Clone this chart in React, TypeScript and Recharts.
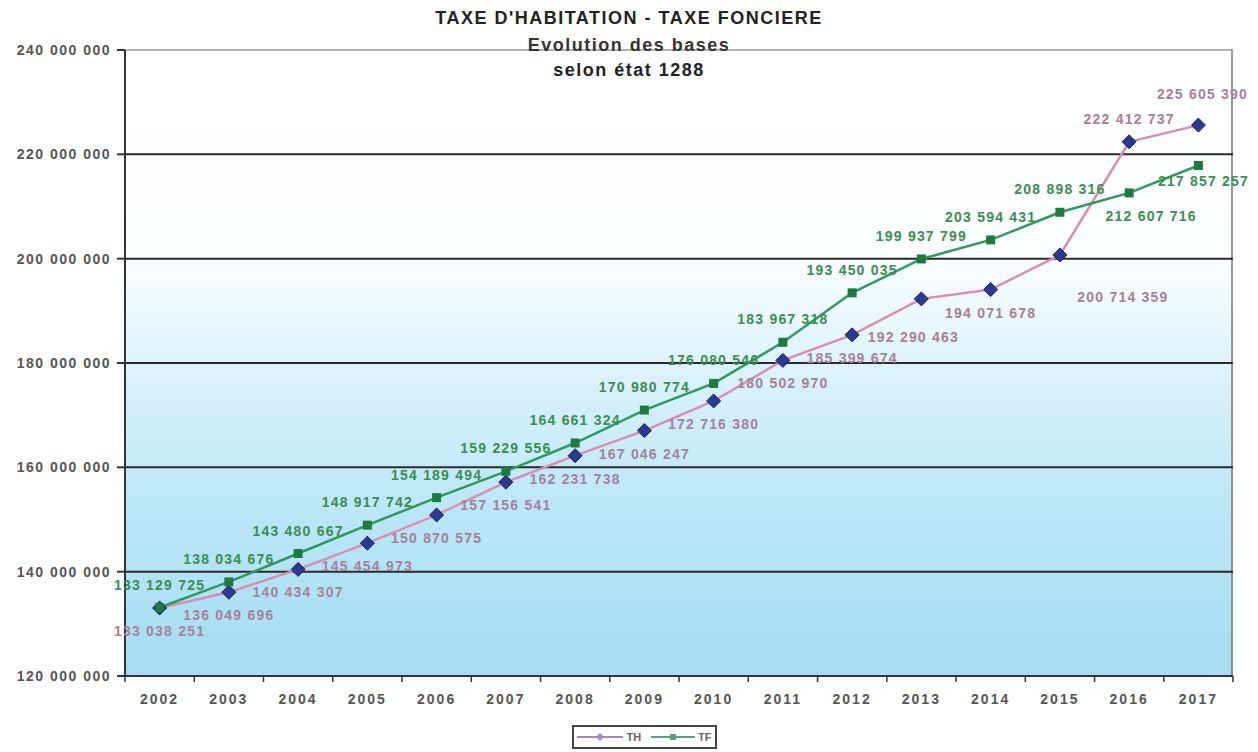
import React from 'react'
import { LineChart, Line, XAxis, YAxis, CartesianGrid, ReferenceLine, LabelList } from 'recharts'

const years = ['2002', '2003', '2004', '2005', '2006', '2007', '2008', '2009', '2010', '2011', '2012', '2013', '2014', '2015', '2016', '2017']

// Taxe d'habitation bases
const thBases = [
  133038251, 136049696, 140434307, 145454973, 150870575, 157156541, 162231738, 167046247,
  172716380, 180502970, 185399674, 192290463, 194071678, 200714359, 222412737, 225605390,
]

// Taxe foncière bases
const tfBases = [
  133129725, 138034676, 143480667, 148917742, 154189494, 159229556, 164661324, 170980774,
  176080546, 183967318, 193450035, 199937799, 203594431, 208898316, 212607716, 217857257,
]

const yTicks = [120000000, 140000000, 160000000, 180000000, 200000000, 220000000, 240000000]

const data = years.map((year, i) => ({ year, th: thBases[i], tf: tfBases[i] }))

const W = 1258
const H = 752
const MARGIN = { top: 50, right: 25, bottom: 36, left: 0 }

const FONT = '"Liberation Sans", Arial, sans-serif'
const TH_LINE = '#d98db3'
const TH_DOT = '#2b3990'
const TH_TEXT = '#a5809a'
const TF_LINE = '#2f9a5e'
const TF_DOT = '#1f7a40'
const TF_TEXT = '#3d8d52'

// label nudges where the default position would collide
const thShift: Record<number, [number, number]> = { 11: [-8, 38], 13: [63, 42], 14: [0, -23], 15: [4, -31] }
const tfShift: Record<number, [number, number]> = { 15: [5, 15], 14: [22, 23] }

const fmt = (n: number) => String(n).replace(/\B(?=(\d{3})+(?!\d))/g, ' ')

const Diamond = (props: any) => {
  const { cx, cy } = props
  if (cx == null || cy == null) return null
  const r = 7
  return <polygon points={`${cx},${cy - r} ${cx + r},${cy} ${cx},${cy + r} ${cx - r},${cy}`} fill={TH_DOT} stroke="#1b2260" strokeWidth={1} />
}

const Square = (props: any) => {
  const { cx, cy } = props
  if (cx == null || cy == null) return null
  return <rect x={cx - 4.5} y={cy - 4.5} width={9} height={9} fill={TF_DOT} />
}

const makeLabel = (color: string, shift: Record<number, [number, number]>, dyBase: number) => (props: any) => {
  const { x, y, index, value } = props
  const [dx, dy] = shift[index] ?? [0, dyBase]
  return (
    <text x={x + dx} y={y + dy} dy={5} textAnchor="middle" fill={color} fontFamily={FONT} fontWeight="bold" fontSize={14} letterSpacing={1.2}>
      {fmt(value)}
    </text>
  )
}

const YearTick = (props: any) => {
  const { x, y, payload, index } = props
  const half = 1107 / 16 / 2
  return (
    <g>
      <line x1={x - half} y1={y - 8} x2={x - half} y2={y - 2} stroke="#333" strokeWidth={1.5} />
      {index === years.length - 1 && <line x1={x + half} y1={y - 8} x2={x + half} y2={y - 2} stroke="#333" strokeWidth={1.5} />}
      <text x={x} y={y + 20} textAnchor="middle" fill="#555" fontFamily={FONT} fontWeight="bold" fontSize={14} letterSpacing={2}>
        {payload.value}
      </text>
    </g>
  )
}

const titleStyle = (top: number, color: string): React.CSSProperties => ({
  position: 'absolute',
  left: 0,
  width: W,
  top,
  textAlign: 'center',
  fontWeight: 'bold',
  fontSize: 18,
  letterSpacing: 1.5,
  color,
  zIndex: 2,
})

export default function App() {
  return (
    <div style={{ position: 'absolute', left: 0, top: 0, width: W, height: H, background: '#fff', fontFamily: FONT }}>
      <div style={titleStyle(8, '#222')}>TAXE D'HABITATION - TAXE FONCIERE</div>
      <div style={titleStyle(35, '#333')}>Evolution des bases</div>
      <div style={titleStyle(60, '#222')}>selon état 1288</div>
      <LineChart width={W} height={H} data={data} margin={MARGIN}>
        <defs>
          <linearGradient id="plotBg" x1="0" y1="0" x2="0" y2="1">
            <stop offset="0" stopColor="#ffffff" />
            <stop offset="0.33" stopColor="#fbfeff" />
            <stop offset="0.52" stopColor="#daf2fb" />
            <stop offset="0.75" stopColor="#b9e6f6" />
            <stop offset="1" stopColor="#a5ddf2" />
          </linearGradient>
        </defs>
        {/* gradient plot background plus a plain right edge */}
        <CartesianGrid
          fill="url(#plotBg)"
          horizontal={false}
          verticalPoints={[W - MARGIN.right - 1]}
          stroke="#777"
          strokeWidth={1.5}
          strokeDasharray="0"
        />
        {yTicks.slice(1, -1).map((v) => (
          <ReferenceLine key={v} y={v} stroke="#2a2a2a" strokeWidth={2} />
        ))}
        <ReferenceLine y={240000000} stroke="#999" strokeWidth={1.5} />
        <XAxis
          dataKey="year"
          height={40}
          padding={{ left: 1107 / 32, right: 1107 / 32 }}
          stroke="#333"
          strokeWidth={2}
          tickLine={false}
          tick={<YearTick />}
          interval={0}
        />
        <YAxis
          domain={[120000000, 240000000]}
          ticks={yTicks}
          width={125}
          stroke="#333"
          strokeWidth={2}
          tickSize={8}
          tickMargin={6}
          tickFormatter={fmt}
          tick={{ fill: '#555', fontFamily: FONT, fontWeight: 'bold', fontSize: 14, letterSpacing: 1.5 }}
          allowDataOverflow
        />
        <Line dataKey="th" stroke={TH_LINE} strokeWidth={2.5} dot={<Diamond />} isAnimationActive={false}>
          <LabelList dataKey="th" content={makeLabel(TH_TEXT, thShift, 23)} />
        </Line>
        <Line dataKey="tf" stroke={TF_LINE} strokeWidth={2.5} dot={<Square />} isAnimationActive={false}>
          <LabelList dataKey="tf" content={makeLabel(TF_TEXT, tfShift, -23)} />
        </Line>
      </LineChart>
      <div style={{ position: 'absolute', left: 572, top: 725, width: 145, height: 24, border: '2px solid #444', boxSizing: 'border-box', display: 'flex', alignItems: 'center', justifyContent: 'center', gap: 10, fontSize: 11, fontWeight: 'bold', color: '#666' }}>
        <span style={{ display: 'flex', alignItems: 'center', gap: 3 }}>
          <svg width={46} height={10}>
            <line x1={0} y1={5} x2={46} y2={5} stroke="#9d8cc4" strokeWidth={2} />
            <polygon points="23,1 27,5 23,9 19,5" fill="#9d8cc4" />
          </svg>
          TH
        </span>
        <span style={{ display: 'flex', alignItems: 'center', gap: 3 }}>
          <svg width={44} height={10}>
            <line x1={0} y1={5} x2={44} y2={5} stroke="#5f9f7e" strokeWidth={2} />
            <rect x={19} y={2} width={6} height={6} fill="#5f9f7e" />
          </svg>
          TF
        </span>
      </div>
    </div>
  )
}
